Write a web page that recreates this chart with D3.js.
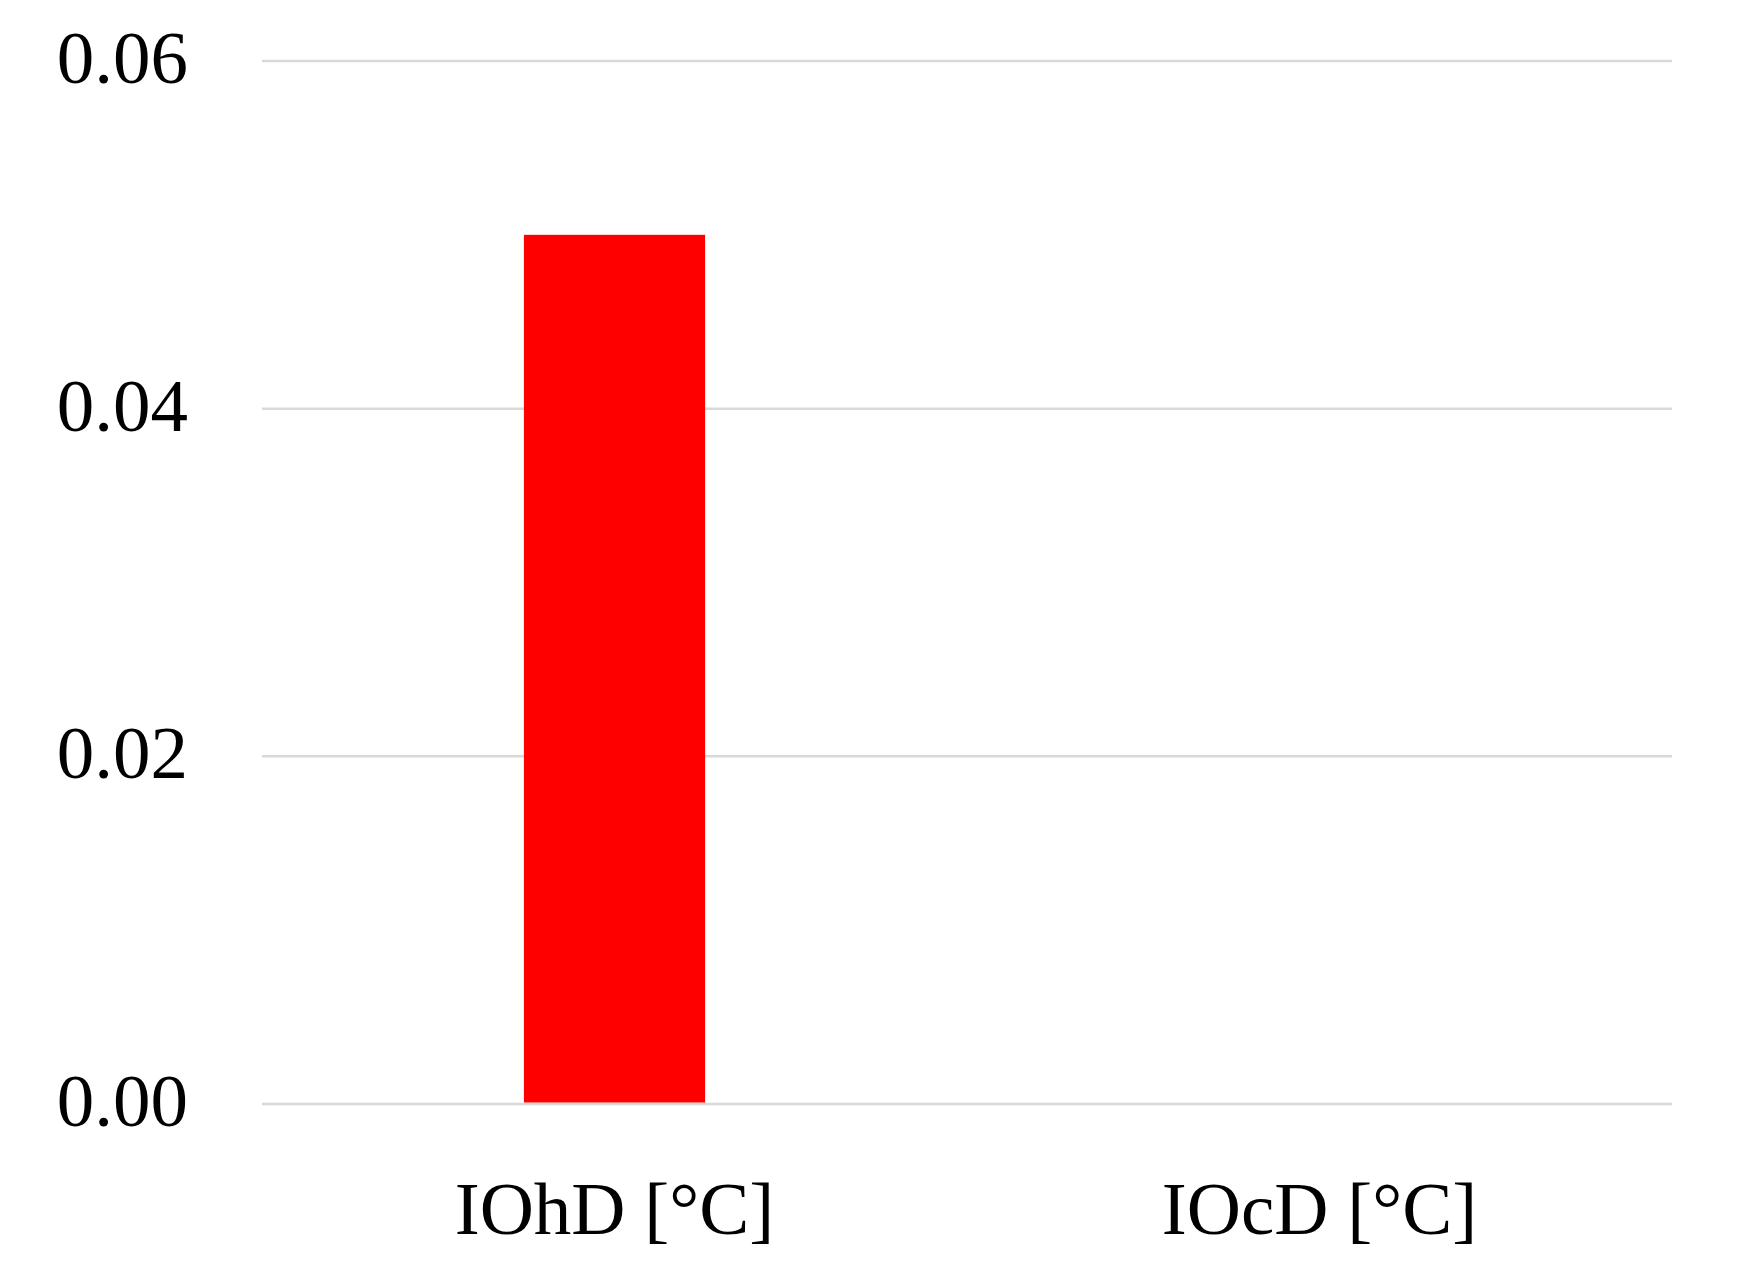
<!DOCTYPE html>
<html lang="en">
<head>
    <meta charset="UTF-8">
    <title>IOhD / IOcD</title>
    <script src="https://d3js.org/d3.v7.min.js"></script>
    <style>
        body {
            margin: 0;
            background: #fff;
        }
        .tick-label {
            font-family: "Liberation Serif", "Times New Roman", serif;
            font-size: 75px;
            fill: #000;
        }
        .grid line {
            stroke: #d9d9d9;
            stroke-width: 2.5px;
        }
    </style>
</head>
<body>
    <div id="chart"></div>
    <script>
        const categories = ["IOhD [°C]", "IOcD [°C]"];
        const values = [0.05, 0];
        const yTicks = [0, 0.02, 0.04, 0.06];
        const yTickLabels = ["0.00", "0.02", "0.04", "0.06"];

        const width = 1746;
        const height = 1276;
        const margin = { top: 61, right: 74, bottom: 172, left: 262 };

        const svg = d3.select("#chart").append("svg")
            .attr("width", width)
            .attr("height", height);

        const x = d3.scaleBand()
            .domain(categories)
            .range([margin.left, width - margin.right])
            .padding(0);

        const y = d3.scaleLinear()
            .domain([0, 0.06])
            .range([height - margin.bottom, margin.top]);

        // gridlines
        svg.append("g")
            .attr("class", "grid")
            .selectAll("line")
            .data(yTicks)
            .enter().append("line")
            .attr("x1", margin.left)
            .attr("x2", width - margin.right)
            .attr("y1", d => y(d))
            .attr("y2", d => y(d));

        // y tick labels
        svg.append("g")
            .selectAll("text")
            .data(yTicks)
            .enter().append("text")
            .attr("class", "tick-label")
            .attr("x", 188)
            .attr("y", d => y(d) + 22)
            .attr("text-anchor", "end")
            .text((d, i) => yTickLabels[i]);

        // bars
        const barWidth = x.bandwidth() * 0.257;
        svg.append("g")
            .selectAll("rect")
            .data(values)
            .enter().append("rect")
            .attr("x", (d, i) => x(categories[i]) + x.bandwidth() / 2 - barWidth / 2)
            .attr("width", barWidth)
            .attr("y", d => y(d))
            .attr("height", d => y(0) - y(d) - 1.5)
            .attr("fill", "#ff0000");

        // category labels
        svg.append("g")
            .selectAll("text")
            .data(categories)
            .enter().append("text")
            .attr("class", "tick-label")
            .attr("x", d => x(d) + x.bandwidth() / 2)
            .attr("y", 1234)
            .attr("text-anchor", "middle")
            .text(d => d);
    </script>
</body>
</html>
